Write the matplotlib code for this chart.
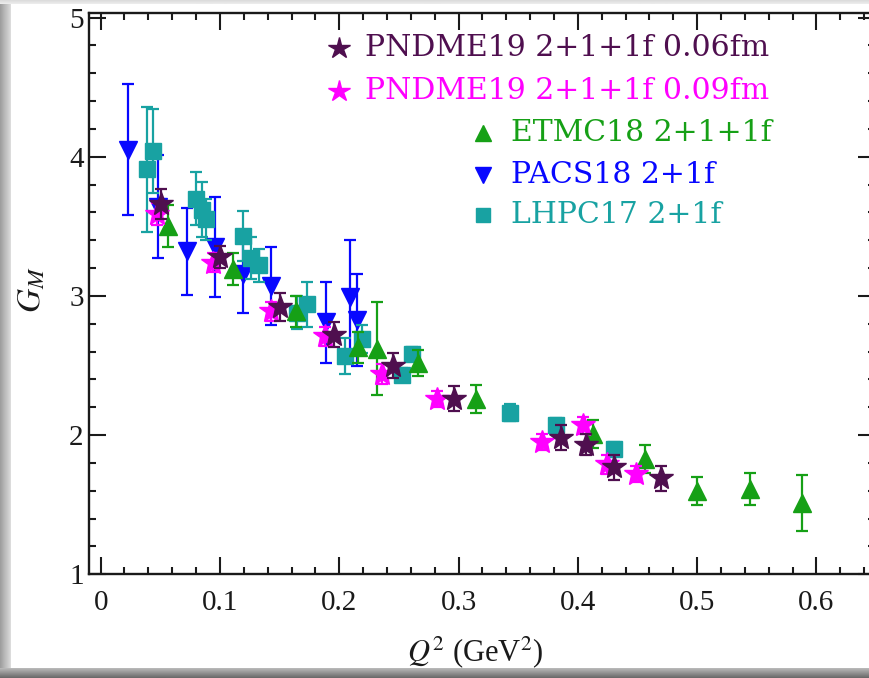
import numpy as np
import matplotlib
matplotlib.use("Agg")
import matplotlib.pyplot as plt
from matplotlib.ticker import FixedLocator, MultipleLocator

# ---------------- data ----------------
pndme06_x = [0.051, 0.100, 0.150, 0.196, 0.245, 0.296, 0.386, 0.407, 0.430, 0.470]
pndme06_y = [3.66, 3.28, 2.92, 2.72, 2.50, 2.26, 1.98, 1.93, 1.77, 1.69]
pndme06_e = [0.11, 0.08, 0.10, 0.09, 0.09, 0.09, 0.09, 0.075, 0.09, 0.09]

pndme09_x = [0.0475, 0.094, 0.143, 0.188, 0.2355, 0.282, 0.370, 0.4045, 0.424, 0.449]
pndme09_y = [3.59, 3.24, 2.89, 2.71, 2.44, 2.26, 1.95, 2.07, 1.79, 1.72]
pndme09_e = [0.08, 0.07, 0.07, 0.07, 0.07, 0.06, 0.06, 0.06, 0.07, 0.06]

etmc_x = [0.0567, 0.111, 0.164, 0.216, 0.232, 0.266, 0.315, 0.413, 0.456, 0.500, 0.544, 0.5875]
etmc_y = [3.50, 3.19, 2.89, 2.63, 2.62, 2.52, 2.26, 2.01, 1.83, 1.60, 1.61, 1.51]
etmc_e = [0.15, 0.115, 0.11, 0.11, 0.335, 0.095, 0.10, 0.10, 0.10, 0.10, 0.115, 0.20]

pacs_x = [0.023, 0.048, 0.072, 0.096, 0.119, 0.143, 0.189, 0.209, 0.2146]
pacs_y = [4.05, 3.64, 3.32, 3.35, 3.16, 3.07, 2.81, 2.99, 2.83]
pacs_e = [0.47, 0.37, 0.31, 0.36, 0.28, 0.28, 0.29, 0.41, 0.33]

lhpc_x = [0.0388, 0.0438, 0.080, 0.085, 0.088, 0.1196, 0.126, 0.133, 0.165, 0.173,
          0.205, 0.219, 0.2523, 0.2607, 0.343, 0.382, 0.430]
lhpc_y = [3.91, 4.04, 3.70, 3.62, 3.55, 3.43, 3.27, 3.22, 2.88, 2.94,
          2.57, 2.69, 2.43, 2.58, 2.16, 2.07, 1.90]
lhpc_e = [0.45, 0.30, 0.19, 0.20, 0.15, 0.18, 0.15, 0.12, 0.12, 0.16,
          0.13, 0.10, 0.05, 0.05, 0.06, 0.05, 0.05]

series_labels = ["PNDME19 2+1+1f 0.06fm", "PNDME19 2+1+1f 0.09fm",
                 "ETMC18 2+1+1f", "PACS18 2+1f", "LHPC17 2+1f"]
x_ticks = [0, 0.1, 0.2, 0.3, 0.4, 0.5, 0.6]
x_ticklabels = ["0", "0.1", "0.2", "0.3", "0.4", "0.5", "0.6"]
y_ticks = [1, 2, 3, 4, 5]
y_ticklabels = ["1", "2", "3", "4", "5"]

# ---------------- styles ----------------
c_dark = "#4f0f4f"
c_mag = "#ff00ff"
c_green = "#16a016"
c_blue = "#0808ff"
c_teal = "#18a2a2"
c_axis = "#1a1a1a"

plt.rcParams["mathtext.fontset"] = "stix"

W, H = 869, 678
fig = plt.figure(figsize=(W / 100, H / 100), dpi=100)
fig.patch.set_facecolor("white")

# screenshot-like frame bands
def band(rect, arr, vertical):
    a = fig.add_axes(rect, zorder=-5)
    a.set_axis_off()
    g = np.array(arr)[None, :] if not vertical else np.array(arr)[:, None]
    a.imshow(g, cmap="gray", vmin=0, vmax=1, aspect="auto", interpolation="bilinear")

band([0, 0, 11 / W, 1], np.linspace(0.62, 0.86, 12), False)
band([0, 1 - 4 / H, 1, 4 / H], np.linspace(0.86, 0.92, 4), True)
band([0, 0, 1, 10 / H], np.linspace(0.72, 0.42, 10), True)

left = 89.3 / W
right_px = 875
bottom = (H - 574.3) / H
top = (H - 12.7) / H
ax = fig.add_axes([left, bottom, (right_px - 89.3) / W, top - bottom])
ax.set_facecolor("white")

ekw = dict(linestyle="none", elinewidth=1.6, capthick=1.6, capsize=4.6)

ax.errorbar(pacs_x, pacs_y, yerr=pacs_e, marker="v", ms=13, color=c_blue,
            ecolor=c_blue, mec=c_blue, zorder=3, **ekw)
ax.errorbar(lhpc_x, lhpc_y, yerr=lhpc_e, marker="s", ms=11, color=c_teal,
            ecolor=c_teal, mec=c_teal, zorder=4, **ekw)
ax.errorbar(etmc_x, etmc_y, yerr=etmc_e, marker="^", ms=13, color=c_green,
            ecolor=c_green, mec=c_green, zorder=5, **ekw)
ax.errorbar(pndme09_x, pndme09_y, yerr=pndme09_e, marker="*", ms=18, color=c_mag,
            ecolor=c_mag, mec=c_mag, zorder=6, **ekw)
ax.errorbar(pndme06_x, pndme06_y, yerr=pndme06_e, marker="*", ms=18, color=c_dark,
            ecolor=c_dark, mec=c_dark, zorder=7, **ekw)

ax.set_xlim(-0.0095, (right_px - 100.7) / 1193)
ax.set_ylim(1.0, 5.035)

ax.xaxis.set_major_locator(FixedLocator(x_ticks))
ax.set_xticklabels(x_ticklabels)
ax.xaxis.set_minor_locator(MultipleLocator(0.02))
ax.yaxis.set_major_locator(FixedLocator(y_ticks))
ax.set_yticklabels(y_ticklabels)
ax.yaxis.set_minor_locator(MultipleLocator(0.2))

ax.tick_params(which="both", direction="in", top=True, right=True, width=1.5,
               color=c_axis)
ax.tick_params(which="major", length=12)
ax.tick_params(which="minor", length=5)
ax.tick_params(axis="x", which="major", pad=11)
ax.tick_params(axis="y", which="major", pad=4)
for lab in ax.get_xticklabels() + ax.get_yticklabels():
    lab.set_fontfamily("Liberation Serif")
    lab.set_fontsize(21)
    lab.set_color(c_axis)
for s in ax.spines.values():
    s.set_linewidth(1.7)
    s.set_color(c_axis)

ax.set_xlabel(r"$Q^2$ (GeV$^2$)", fontsize=22, family="Liberation Serif", color=c_axis)
ax.set_ylabel(r"$G_M$", fontsize=24, color=c_axis)
ax.xaxis.set_label_coords((475 - 89.3) / (right_px - 89.3), (574.3 - 634) / 561.6)
ax.yaxis.set_label_coords((48 - 89.3) / (right_px - 89.3), (574.3 - 290) / 561.6)

# manual legend (in axes fraction)
def ax_pt(px, py):
    return ((px - 89.3) / (right_px - 89.3), (574.3 - py) / 561.6)

leg_rows = [
    (series_labels[0], c_dark, "*", 16, 339, 365, 48),
    (series_labels[1], c_mag, "*", 16, 339, 365, 91),
    (series_labels[2], c_green, "^", 12, 483, 511, 133),
    (series_labels[3], c_blue, "v", 12, 483, 511, 175),
    (series_labels[4], c_teal, "s", 10, 483, 511, 215),
]
for txt, col, mk, ms, mx, tx, ty in leg_rows:
    ax.plot(*ax_pt(mx, ty), marker=mk, ms=ms, color=col, transform=ax.transAxes,
            clip_on=False, zorder=10)
    ax.text(*ax_pt(tx, ty), txt, color=col, fontsize=21.5, family="DejaVu Serif",
            va="center", ha="left", transform=ax.transAxes, zorder=10)

fig.savefig("out.png", dpi=100)
